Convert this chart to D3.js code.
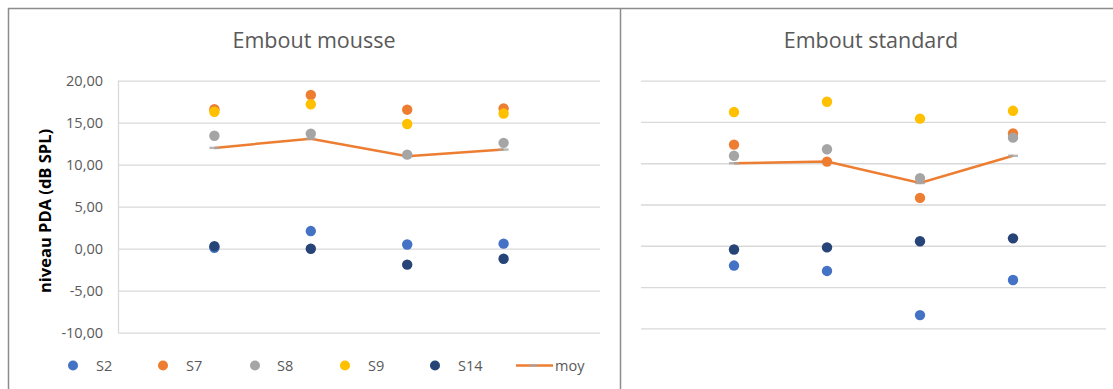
<!DOCTYPE html>
<html>
<head>
<meta charset="utf-8">
<script src="https://cdn.jsdelivr.net/npm/d3@7"></script>
<style>
  html, body { margin: 0; padding: 0; background: #fff; }
  svg { display: block; font-family: "Open Sans", "Noto Sans", sans-serif; }
</style>
</head>
<body>
<svg id="chart" width="1113" height="389"></svg>
<script>
// ---- data ----
const categories = [1, 2, 3, 4];
const seriesNames = ["S2", "S7", "S8", "S9", "S14"];
const seriesColors = ["#4472C4", "#ED7D31", "#A5A5A5", "#FFC000", "#264478"];
const yTicks = [-10, -5, 0, 5, 10, 15, 20];
const titles = ["Embout mousse", "Embout standard"];

// Embout mousse
const mousseS2  = [0.1, 2.1, 0.5, 0.6];
const mousseS7  = [16.6, 18.3, 16.55, 16.7];
const mousseS8  = [13.45, 13.7, 11.2, 12.6];
const mousseS9  = [16.3, 17.2, 14.85, 16.1];
const mousseS14 = [0.3, 0.0, -1.9, -1.2];
const mousseMoy = [12.0, 13.1, 11.0, 11.8];

// Embout standard
const standardS2  = [-2.4, -3.05, -8.4, -4.15];
const standardS7  = [12.25, 10.2, 5.8, 13.6];
const standardS8  = [10.9, 11.7, 8.2, 13.1];
const standardS9  = [16.2, 17.45, 15.4, 16.35];
const standardS14 = [-0.45, -0.2, 0.55, 0.9];
const standardMoy = [10.0, 10.2, 7.6, 10.9];

const svg = d3.select("#chart");
const W = 1113, H = 389;
svg.append("rect").attr("width", W).attr("height", H).attr("fill", "#fff");

const locale = d3.formatLocale({decimal: ",", thousands: " ", grouping: [3], currency: ["", ""], minus: "-"});
const fmt = locale.format(".2f");

const textColor = "#595959";
const gridColor = "#d9d9d9";

// outer border and separator
svg.append("path")
  .attr("d", `M8.5,${H + 5} V8.5 H${W + 5}`)
  .attr("fill", "none").attr("stroke", "#8c8c8c").attr("stroke-width", 1.5);
svg.append("line")
  .attr("x1", 620.5).attr("x2", 620.5).attr("y1", 8.5).attr("y2", H + 5)
  .attr("stroke", "#8c8c8c").attr("stroke-width", 1.5);

const panels = [
  {
    title: titles[0], titleX: 314,
    x0: 118, x1: 600, yTop: 80.7, yBot: 332.7,
    labels: true, axisLine: true,
    series: [mousseS2, mousseS7, mousseS8, mousseS9, mousseS14], moy: mousseMoy
  },
  {
    title: titles[1], titleX: 871,
    x0: 641, x1: 1106, yTop: 80.7, yBot: 328.3,
    labels: false, axisLine: false,
    series: [standardS2, standardS7, standardS8, standardS9, standardS14], moy: standardMoy
  }
];

panels.forEach(p => {
  const g = svg.append("g");
  const x = d3.scaleLinear().domain([0, 5]).range([p.x0, p.x1]);
  const y = d3.scaleLinear().domain([-10, 20]).range([p.yBot, p.yTop]);

  // title
  g.append("text")
    .attr("x", p.titleX).attr("y", 47.5)
    .attr("text-anchor", "middle")
    .attr("font-size", 21.5).attr("fill", textColor)
    .text(p.title);

  // grid + labels
  const axis = d3.axisLeft(y).tickValues(yTicks)
    .tickSizeInner(-(p.x1 - p.x0)).tickSizeOuter(0)
    .tickPadding(15)
    .tickFormat(p.labels ? fmt : () => "");
  const ag = g.append("g").attr("transform", `translate(${p.x0},0)`).call(axis);
  ag.select(".domain").remove();
  ag.selectAll(".tick line").attr("stroke", gridColor).attr("stroke-width", 1.3);
  ag.selectAll(".tick text").attr("fill", textColor).attr("font-size", 14.5)
    .attr("font-family", "'Open Sans', sans-serif");

  if (p.axisLine) {
    g.append("line")
      .attr("x1", p.x0 + 0.5).attr("x2", p.x0 + 0.5)
      .attr("y1", y(20)).attr("y2", y(-10))
      .attr("stroke", gridColor).attr("stroke-width", 1.3);
  }

  // moy line
  const line = d3.line().x((d, i) => x(categories[i])).y(d => y(d));
  g.append("path").datum(p.moy)
    .attr("d", line).attr("fill", "none")
    .attr("stroke", "#ED7D31").attr("stroke-width", 2.5);
  g.selectAll(".moym").data(p.moy).enter().append("rect")
    .attr("x", (d, i) => x(categories[i]) - 5).attr("y", d => y(d) - 1.2)
    .attr("width", 10).attr("height", 2.4).attr("fill", "#A5A5A5").attr("opacity", 0.8);

  // dots
  p.series.forEach((vals, si) => {
    g.selectAll(".s" + si).data(vals).enter().append("circle")
      .attr("cx", (d, i) => x(categories[i]))
      .attr("cy", d => y(d))
      .attr("r", 5.2)
      .attr("fill", seriesColors[si]);
  });
});

// y-axis title
svg.append("text")
  .attr("transform", "translate(51,211) rotate(-90)")
  .attr("text-anchor", "middle")
  .attr("font-size", 16.5).attr("font-weight", "bold").attr("fill", "#000")
  .text("niveau PDA (dB SPL)");

// legend
const legendY = 365.5;
const legendMarkerX = [73, 163, 255, 345, 435];
const legendTextX = [96, 186, 277, 368, 458];
const lg = svg.append("g");
seriesNames.forEach((n, i) => {
  lg.append("circle").attr("cx", legendMarkerX[i]).attr("cy", legendY).attr("r", 5)
    .attr("fill", seriesColors[i]);
  lg.append("text").attr("x", legendTextX[i]).attr("y", legendY + 5)
    .attr("font-size", 14.5).attr("fill", textColor).text(n);
});
lg.append("line").attr("x1", 516).attr("x2", 553).attr("y1", legendY).attr("y2", legendY)
  .attr("stroke", "#ED7D31").attr("stroke-width", 2.5);
lg.append("rect").attr("x", 529.5).attr("y", legendY - 1.2).attr("width", 8).attr("height", 2.4)
  .attr("fill", "#A5A5A5").attr("opacity", 0.8);
lg.append("text").attr("x", 555).attr("y", legendY + 5)
  .attr("font-size", 14.5).attr("fill", textColor).text("moy");
</script>
</body>
</html>
